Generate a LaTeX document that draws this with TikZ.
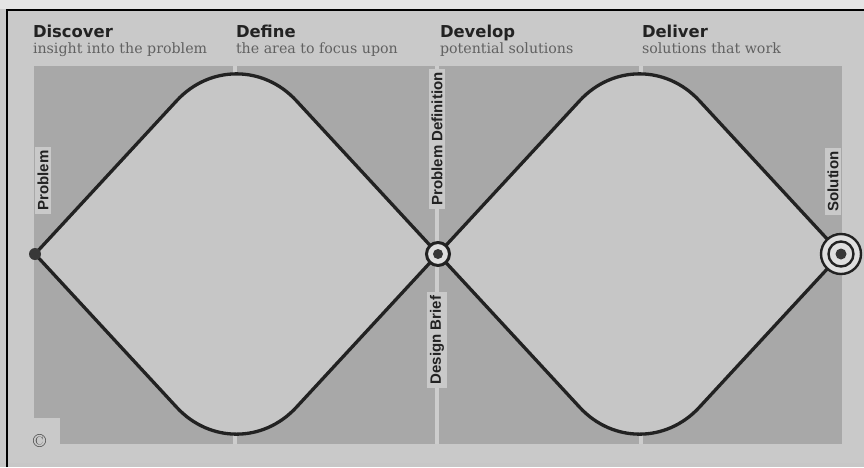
\documentclass[tikz,border=0pt]{standalone}
\usepackage{fontspec}
\setsansfont{Liberation Sans}
\newfontfamily\headfont{DejaVu Sans}
\newfontfamily\subfont{DejaVu Serif}
\usetikzlibrary{calc}
\definecolor{bglight}{HTML}{C9C9C9}
\definecolor{bgtop}{HTML}{E4E4E4}
\definecolor{panel}{HTML}{A8A8A8}
\definecolor{dfill}{HTML}{C6C6C6}
\definecolor{ink}{HTML}{222222}
\begin{document}
\begin{tikzpicture}[x=1pt,y=-1pt,
  every node/.style={inner sep=0pt, outer sep=0pt},
  heading/.style={anchor=base west, font=\headfont\bfseries\fontsize{16.4}{17}\selectfont, text=ink},
  subtitle/.style={anchor=base west, font=\subfont\fontsize{14.2}{15}\selectfont, text=black!62},
  vlabel/.style={rotate=90, fill=bglight, inner xsep=3.5pt, inner ysep=2.5pt, font=\sffamily\bfseries\fontsize{15}{15}\selectfont, text=ink},
  curve/.style={draw=ink, line width=3.3pt, line join=round},
  divider/.style={draw=bglight!92!white, line width=4pt},
  dot/.style={circle, fill=black!78},
  ring/.style={circle, draw=ink, line width=2.4pt}]
\useasboundingbox (0,0) rectangle (864,467);
% background
\fill[bglight] (0,0) rectangle (864,467);
\fill[bgtop] (0,0) rectangle (864,9);
\fill[black!22] (0,463) rectangle (864,467);
\draw[black, line width=1.6pt] (7,467) -- (7,10) -- (864,10);
% panel
\fill[panel] (34,66) rectangle (842,444);
\fill[bglight] (33,418) rectangle (60,445);
% dividers
\coordinate (d1t) at (235,66); \coordinate (d1b) at (235,444);
\coordinate (d2t) at (437,66); \coordinate (d2b) at (437,444);
\coordinate (d3t) at (641,66); \coordinate (d3b) at (641,444);
\draw[divider] (d1t) -- (d1b);
\draw[divider] (d2t) -- (d2b);
\draw[divider] (d3t) -- (d3b);
% key points
\coordinate (P) at (35,254);
\coordinate (M) at (438,254);
\coordinate (S) at (841,254);
\coordinate (T1) at (236.5,36);
\coordinate (B1) at (236.5,472);
\coordinate (T2) at (639.5,36);
\coordinate (B2) at (639.5,472);
% diamond fills
\fill[dfill, rounded corners=88pt] (P) -- (T1) -- (M);
\fill[dfill, rounded corners=88pt] (P) -- (B1) -- (M);
\fill[dfill, rounded corners=88pt] (M) -- (T2) -- (S);
\fill[dfill, rounded corners=88pt] (M) -- (B2) -- (S);
\fill[dfill] (P) -- (M) -- ($(M)+(0,0.6)$) -- ($(P)+(0,0.6)$) -- cycle;
\fill[dfill] (M) -- (S) -- ($(S)+(0,0.6)$) -- ($(M)+(0,0.6)$) -- cycle;
% diamond outlines
\draw[curve, rounded corners=88pt] (P) -- (T1) -- (M);
\draw[curve, rounded corners=88pt] (P) -- (B1) -- (M);
\draw[curve, rounded corners=88pt] (M) -- (T2) -- (S);
\draw[curve, rounded corners=88pt] (M) -- (B2) -- (S);
% labels
\node[vlabel] (lprob) at (43,180.5) {Problem};
\node[vlabel] (ldef) at (437,139) {Problem Definition};
\node[vlabel] (lbrief) at (437,340) {Design Brief};
\node[vlabel] (lsol) at (833,181.5) {Solution};
% markers
\node[dot, minimum size=12pt] (prob) at (P) {};
\node[ring, line width=3pt, fill=bglight!60!white, minimum size=23pt] (mid) at (M) {};
\node[dot, minimum size=10pt] (middot) at (M) {};
\node[ring, fill=bglight!60!white, minimum size=40pt] (sol) at (S) {};
\node[ring, minimum size=25pt] (solring) at (S) {};
\node[dot, minimum size=11pt] (soldot) at (S) {};
% headings
\node[heading] (h1) at (33,37) {Discover};
\node[subtitle] (s1) at (33,53) {insight into the problem};
\node[heading] (h2) at (236,37) {Define};
\node[subtitle] (s2) at (236,53) {the area to focus upon};
\node[heading] (h3) at (440,37) {Develop};
\node[subtitle] (s3) at (440,53) {potential solutions};
\node[heading] (h4) at (642,37) {Deliver};
\node[subtitle] (s4) at (642,53) {solutions that work};
% copyright
\node[font=\fontsize{19}{19}\selectfont, text=black!75] (copy) at (39.5,440.5) {\textcopyright};
\end{tikzpicture}
\end{document}
